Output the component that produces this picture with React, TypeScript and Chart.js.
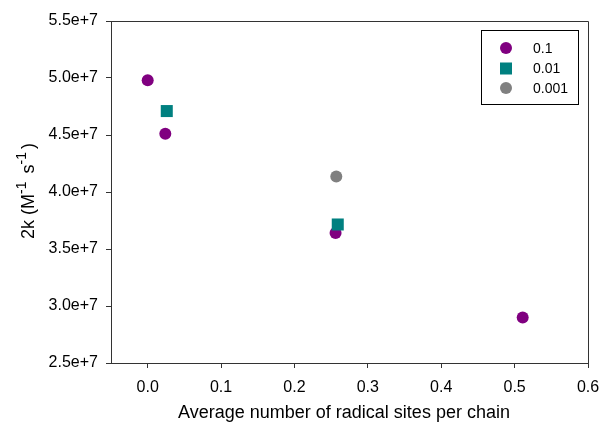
import React, { useEffect, useRef } from "react";
import { Chart, registerables } from "chart.js";

Chart.register(...registerables);

// Series: initiator concentration
const seriesLabels = ["0.1", "0.01", "0.001"];
const seriesColors = ["#800080", "#008080", "#808080"];

// Average number of radical sites per chain (x) and 2k in M^-1 s^-1 (y)
const sites01 = [0.0, 0.024, 0.256, 0.511];
const rate01 = [4.98e7, 4.51e7, 3.64e7, 2.9e7];
const sites001 = [0.026, 0.259];
const rate001 = [4.71e7, 3.715e7];
const sites0001 = [0.257];
const rate0001 = [4.135e7];

const xTicks = [0, 0.1, 0.2, 0.3, 0.4, 0.5, 0.6];
const yTicks = [2.5e7, 3.0e7, 3.5e7, 4.0e7, 4.5e7, 5.0e7, 5.5e7];

const xTitle = "Average number of radical sites per chain";
const FONT = "'Liberation Sans', Arial, sans-serif";
const AXIS = "#333333";

const toPoints = (xs: number[], ys: number[]) => xs.map((x, i) => ({ x, y: ys[i] }));

const decorations = {
  id: "decorations",
  afterDraw(chart: any) {
    const { ctx, chartArea } = chart;
    const { left, right, top, bottom } = chartArea;
    ctx.save();

    // top and right frame lines
    ctx.strokeStyle = AXIS;
    ctx.lineWidth = 1;
    ctx.beginPath();
    ctx.moveTo(left, Math.round(top) + 0.5);
    ctx.lineTo(Math.round(right) + 0.5, Math.round(top) + 0.5);
    ctx.lineTo(Math.round(right) + 0.5, bottom);
    ctx.stroke();

    // x-axis title
    ctx.fillStyle = "#000";
    ctx.font = `18px ${FONT}`;
    ctx.textAlign = "center";
    ctx.textBaseline = "middle";
    ctx.fillText(xTitle, 344, 413);

    // y-axis title with superscripts
    ctx.save();
    ctx.translate(34, 191);
    ctx.rotate(-Math.PI / 2);
    const parts: [string, boolean][] = [
      ["2k (M", false],
      ["-1", true],
      [" s", false],
      ["-1", true],
      [")", false],
    ];
    const big = `18px ${FONT}`;
    const small = `14px ${FONT}`;
    const gap = 3;
    let total = 0;
    for (const [t, sup] of parts) {
      ctx.font = sup ? small : big;
      total += ctx.measureText(t).width + (sup ? gap : 0);
    }
    let cx = -total / 2;
    ctx.textAlign = "left";
    ctx.textBaseline = "alphabetic";
    for (const [t, sup] of parts) {
      ctx.font = sup ? small : big;
      ctx.fillText(t, cx, sup ? -8 : 0);
      cx += ctx.measureText(t).width + (sup ? gap : 0);
    }
    ctx.restore();

    // legend box
    ctx.strokeStyle = "#000";
    ctx.lineWidth = 1;
    ctx.strokeRect(481.5, 30.5, 97, 74);
    const rows = [48, 68.5, 88];
    ctx.font = `14px ${FONT}`;
    ctx.textAlign = "left";
    ctx.textBaseline = "middle";
    seriesLabels.forEach((label, i) => {
      const ds = chart.data.datasets[i];
      ctx.fillStyle = ds.backgroundColor;
      if (ds.pointStyle === "rect") {
        ctx.fillRect(500, rows[i] - 6, 12, 12);
      } else {
        ctx.beginPath();
        ctx.arc(506, rows[i], 6, 0, Math.PI * 2);
        ctx.fill();
      }
      ctx.fillStyle = "#000";
      ctx.fillText(label, 533, rows[i] + 1);
    });

    ctx.restore();
  },
};

export default function App() {
  const canvasRef = useRef<HTMLCanvasElement | null>(null);

  useEffect(() => {
    const canvas = canvasRef.current;
    if (!canvas) return;
    const chart = new Chart(canvas, {
      type: "scatter",
      data: {
        datasets: [
          {
            label: seriesLabels[0],
            data: toPoints(sites01, rate01),
            backgroundColor: seriesColors[0],
            borderColor: seriesColors[0],
            borderWidth: 0,
            pointStyle: "circle",
            pointRadius: 6,
            order: 3,
          },
          {
            label: seriesLabels[1],
            data: toPoints(sites001, rate001),
            backgroundColor: seriesColors[1],
            borderColor: seriesColors[1],
            borderWidth: 0,
            pointStyle: "rect",
            pointRadius: 8.5,
            order: 2,
          },
          {
            label: seriesLabels[2],
            data: toPoints(sites0001, rate0001),
            backgroundColor: seriesColors[2],
            borderColor: seriesColors[2],
            borderWidth: 0,
            pointStyle: "circle",
            pointRadius: 6,
            order: 1,
          },
        ],
      },
      options: {
        responsive: false,
        animation: false,
        layout: { padding: { top: 21, right: 13, left: 0, bottom: 0 } },
        plugins: {
          legend: { display: false },
          tooltip: { enabled: false },
        },
        scales: {
          x: {
            type: "linear",
            min: -0.05,
            max: 0.6,
            afterBuildTicks: (scale: any) => {
              scale.ticks = xTicks.map((v) => ({ value: v }));
            },
            afterFit: (scale: any) => {
              scale.height = 62;
              scale.paddingLeft = 0;
              scale.paddingRight = 0;
            },
            grid: {
              drawOnChartArea: false,
              drawTicks: true,
              tickLength: 5,
              color: AXIS,
            },
            border: { display: true, color: AXIS, width: 1 },
            ticks: {
              color: "#000",
              padding: 10,
              font: { family: FONT, size: 16 },
              callback: (v: any) => Number(v).toFixed(1),
            },
          },
          y: {
            type: "linear",
            min: 2.5e7,
            max: 5.5e7,
            afterBuildTicks: (scale: any) => {
              scale.ticks = yTicks.map((v) => ({ value: v }));
            },
            afterFit: (scale: any) => {
              scale.width = 111;
              scale.paddingTop = 0;
              scale.paddingBottom = 0;
            },
            grid: {
              drawOnChartArea: false,
              drawTicks: true,
              tickLength: 5,
              color: AXIS,
            },
            border: { display: true, color: AXIS, width: 1 },
            ticks: {
              color: "#000",
              padding: 8,
              font: { family: FONT, size: 16 },
              callback: (v: any) => Number(v).toExponential(1),
            },
          },
        },
      },
      plugins: [decorations],
    });
    return () => chart.destroy();
  }, []);

  return (
    <div style={{ position: "fixed", left: 0, top: 0, width: 601, height: 425, background: "#fff" }}>
      <canvas ref={canvasRef} width={601} height={425} style={{ display: "block" }} />
    </div>
  );
}
